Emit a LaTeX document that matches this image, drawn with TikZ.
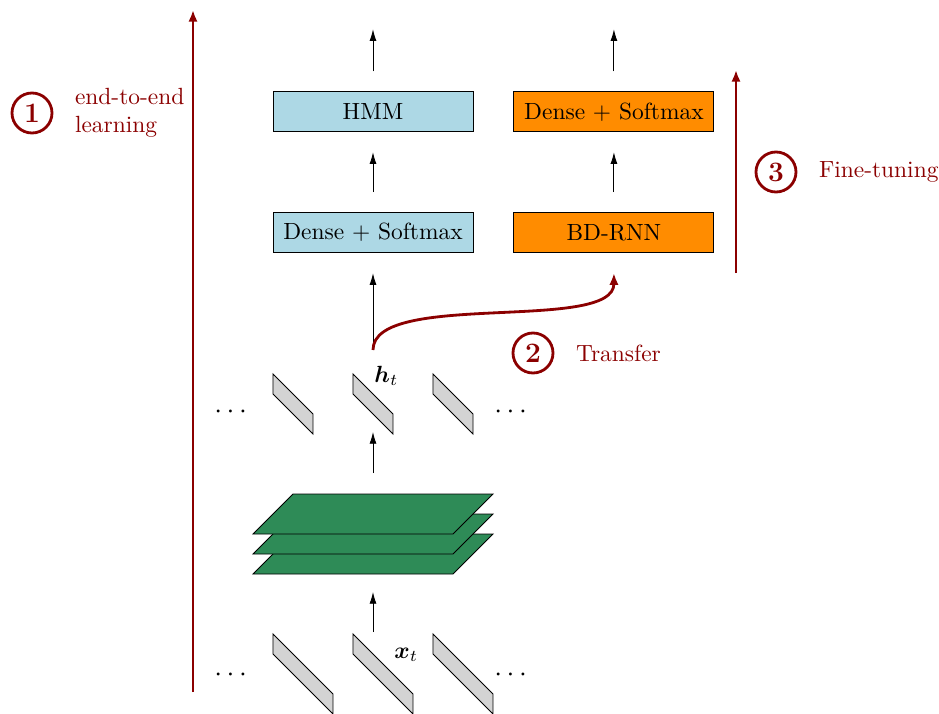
\documentclass[tikz,border=0pt]{standalone}
\usepackage{amssymb,amsmath,bm}
\usepackage[svgnames]{xcolor}
\usetikzlibrary{positioning}
\usetikzlibrary{arrows.meta}
\tikzset{layer/.style = {draw, minimum width = 3cm, minimum height = 0.6cm, inner sep = 0}}
\tikzset{numcirc/.style = {circle, draw = DarkRed, line width = 1.2pt, text = DarkRed, minimum size = 0.6cm, inner sep = 0, font = \large\bfseries}}
\tikzset{arr/.style = {-{Latex[length=5pt, width=3pt]}}}
\tikzset{redarr/.style = {DarkRed, line width = 1.2pt, -{Latex[length=5pt, width=4pt]}}}
\tikzset{vec/.style = {draw, fill = LightGray}}
\tikzset{sheet/.style = {draw, fill = SeaGreen}}
\tikzset{dots/.style = {font = \large}}

\begin{document}
\begin{tikzpicture}
  \useasboundingbox (-5.595,0.015) rectangle (8.49,10.71);

  % boxes
  \node[layer, fill=LightBlue] (dense1) at (0,7.22) {Dense + Softmax};
  \node[layer, fill=LightBlue, above=1.2cm of dense1] (hmm) {HMM};
  \node[layer, fill=DarkOrange, right=0.6cm of dense1] (rnn) {BD-RNN};
  \node[layer, fill=DarkOrange, right=0.6cm of hmm] (dense2) {Dense + Softmax};

  \coordinate[above=0.93cm of hmm] (out1);
  \coordinate[above=0.93cm of dense2] (out2);
  \coordinate[below=0.3cm of rnn] (rnnin);

  \draw[arr, shorten <=0.3cm] (hmm) -- (out1);
  \draw[arr, shorten <=0.3cm] (dense2) -- (out2);
  \draw[arr, shorten <=0.3cm, shorten >=0.3cm] (dense1) -- (hmm);
  \draw[arr, shorten <=0.3cm, shorten >=0.3cm] (rnn) -- (dense2);

  % hidden states
  \foreach \x in {-1.5,-0.3,0.9}
    \draw[vec] (\x,5.1) -- (\x,4.8) -- (\x+0.6,4.2) -- (\x+0.6,4.5) -- cycle;
  \node[dots] (hdotsl) at (-2.1,4.53) {$\cdots$};
  \node[dots] (hdotsr) at (2.1,4.53) {$\cdots$};
  \node (hlabel) at (0.2,5.07) {$\bm{h}_t$};
  \coordinate (ht) at (0,5.46);

  % inputs
  \foreach \x in {-1.5,-0.3,0.9}
    \draw[vec] (\x,1.2) -- (\x,0.9) -- (\x+0.9,0) -- (\x+0.9,0.3) -- cycle;
  \node[dots] (xdotsl) at (-2.1,0.58) {$\cdots$};
  \node[dots] (xdotsr) at (2.1,0.58) {$\cdots$};
  \node (xlabel) at (0.5,0.885) {$\bm{x}_t$};

  % encoder
  \foreach \y in {2.1,2.4,2.7}
    \draw[sheet] (-1.8,\y) -- (1.2,\y) -- (1.8,\y+0.6) -- (-1.2,\y+0.6) -- cycle;

  \coordinate (xin) at (0,1.23);
  \coordinate (encin) at (0,1.83);
  \coordinate (encout) at (0,3.615);
  \coordinate (hin) at (0,4.23);
  \draw[arr] (xin) -- (encin);
  \draw[arr] (encout) -- (hin);
  \draw[arr, shorten >=0.3cm] (ht) -- (dense1);
  \draw[redarr] (ht) to[out=90, in=-90, out distance=0.9cm, in distance=0.9cm] (rnnin);

  % steps
  \coordinate (e2ebot) at (-2.7,0.33);
  \coordinate (e2etop) at (-2.7,10.56);
  \draw[redarr] (e2ebot) -- (e2etop);
  \node[numcirc] (c1) at (-5.115,9.015) {1};
  \node[right=0.2cm of c1, align=left, text=DarkRed] (t1) {end-to-end\\learning};

  \node[numcirc] (c2) at (2.4,5.415) {2};
  \node[right=0.2cm of c2, text=DarkRed] (t2) {Transfer};

  \coordinate (ftbot) at (5.445,6.615);
  \coordinate (fttop) at (5.445,9.66);
  \draw[redarr] (ftbot) -- (fttop);
  \node[numcirc] (c3) at (6.045,8.13) {3};
  \node[right=0.2cm of c3, text=DarkRed] (t3) {Fine-tuning};
\end{tikzpicture}
\end{document}
